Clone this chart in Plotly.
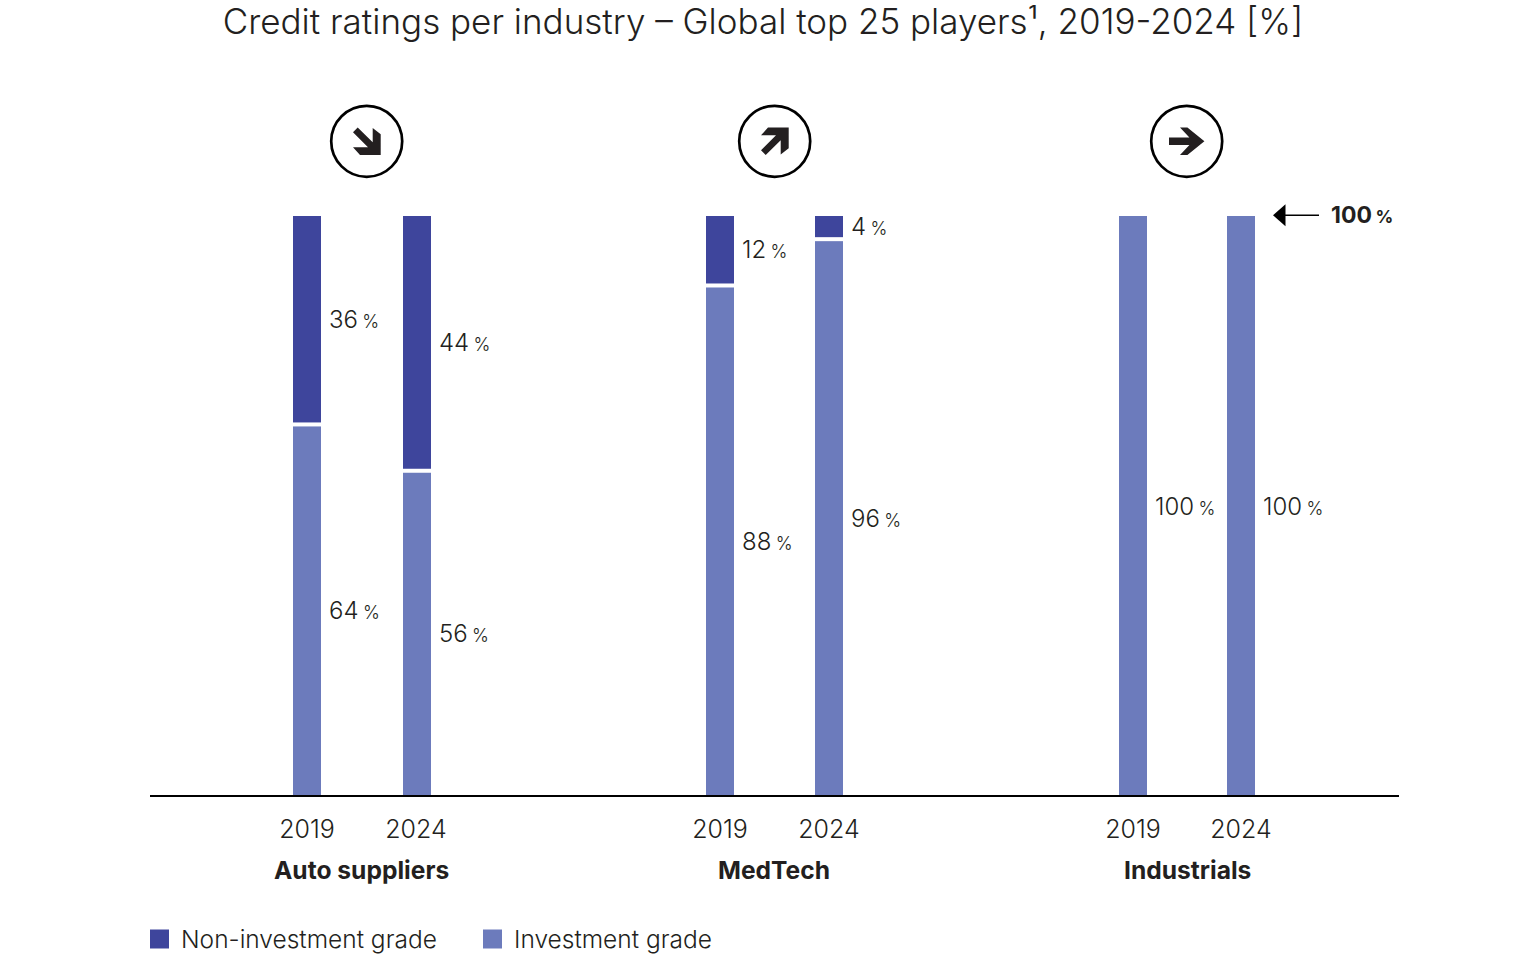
import plotly.graph_objects as go

# ---- data ----
industries = ["Auto suppliers", "MedTech", "Industrials"]
years = ["2019", "2024"]
non_investment = [36, 44, 12, 4, 0, 0]
investment = [64, 56, 88, 96, 100, 100]
series_names = ["Non-investment grade", "Investment grade"]
title_text = "Credit ratings per industry – Global top 25 players¹, 2019-2024 [%]"

# ---- layout / style ----
W, H = 1530, 974
PLOT_L, PLOT_R, PLOT_T, PLOT_B = 150, 1399, 216, 795
BAR_X = [307, 417, 720, 829, 1133, 1241]
TICK_X = [307, 416, 720, 829, 1133, 1241]
GROUP_X = [361, 774, 1187]
ICON_X = [366.7, 774.7, 1186.7]
BAR_W = 28
DARK, LIGHT, INK = "#3E459C", "#6C7BBC", "#231F20"
FONT = "Inter"
year_labels = [y for _ in industries for y in years]


def xp(px):
    return (px - PLOT_L) / (PLOT_R - PLOT_L)


def yp(py):
    return (PLOT_B - py) / (PLOT_B - PLOT_T)


def poly(cx, cy, pts):
    return "M" + " L".join(f"{xp(cx + a)},{yp(cy + b)}" for a, b in pts) + " Z"


def pct(v, size, bold=False):
    s = f'{v}\u2009<span style="font-size:{size}px">%</span>'
    return f"<b>{s}</b>" if bold else s


PAPER = dict(xref="paper", yref="paper")

fig = go.Figure()
fig.add_bar(x=BAR_X, y=investment, width=BAR_W, name=series_names[1],
            marker=dict(color=LIGHT, line=dict(width=0)), showlegend=False)
fig.add_bar(x=BAR_X, y=non_investment, width=BAR_W, name=series_names[0],
            marker=dict(color=DARK, line=dict(width=0)), showlegend=False)

annotations = []
LABEL_FONT = dict(family=FONT, size=24, color=INK, weight=300)
for x, a, b in zip(BAR_X, non_investment, investment):
    annotations.append(dict(x=x + BAR_W / 2, y=b / 2, text=pct(b, 18), showarrow=False, xanchor="left",
                            yanchor="middle", xshift=6, yshift=-1, font=LABEL_FONT))
    if a:
        annotations.append(dict(x=x + BAR_W / 2, y=b + a / 2, text=pct(a, 18), showarrow=False, xanchor="left",
                                yanchor="middle", xshift=6, yshift=1, font=LABEL_FONT))

shapes = []
# white separators between stacked segments
for x, a, b in zip(BAR_X, non_investment, investment):
    if a:
        shapes.append(dict(type="line", x0=x - BAR_W / 2, x1=x + BAR_W / 2, y0=b, y1=b,
                           line=dict(color="white", width=4), layer="above"))

# trend icons
SE = [(-9, -13.7), (6, 1), (6, -13.3), (14, -7), (14, 13.7), (-6.7, 13.7), (-13.7, 6), (1.3, 6), (-13.7, -9)]
NE = [(a, -b) for a, b in SE]
EA = [(17.7, 0), (0.7, -13.7), (-6.7, -13.7), (2.7, -3.7), (-17.7, -3.7),
      (-17.7, 3.7), (2.7, 3.7), (-6.7, 13.7), (0.7, 13.7)]
CY, R = 141.3, 35.5
for cx, pts in zip(ICON_X, [SE, NE, EA]):
    shapes.append(dict(type="circle", x0=xp(cx - R), x1=xp(cx + R), y0=yp(CY - R), y1=yp(CY + R),
                       line=dict(color="black", width=2.7), fillcolor="white", **PAPER))
    shapes.append(dict(type="path", path=poly(cx, CY, pts), fillcolor=INK, line=dict(width=0), **PAPER))

# 100% pointer
shapes.append(dict(type="line", x0=xp(1285), x1=xp(1319), y0=yp(215.3), y1=yp(215.3),
                   line=dict(color="black", width=1.5), **PAPER))
shapes.append(dict(type="path", path=poly(1273, 215.3, [(0, 0), (12.5, -11), (12.5, 11)]),
                   fillcolor="black", line=dict(width=0), **PAPER))

# legend swatches
LEG_Y = 939
for x0, c in zip([150, 483], [DARK, LIGHT]):
    shapes.append(dict(type="rect", x0=xp(x0), x1=xp(x0 + 19), y0=yp(LEG_Y - 9.5), y1=yp(LEG_Y + 9.5),
                       fillcolor=c, line=dict(width=0), **PAPER))

for x, name in zip(GROUP_X, industries):
    annotations.append(dict(x=xp(x), y=yp(869.5), text=f"<b>{name}</b>", showarrow=False, xanchor="center",
                            yanchor="middle", font=dict(family=FONT, size=24.6, color=INK), **PAPER))
for x, name in zip([179, 512], series_names):
    annotations.append(dict(x=xp(x), y=yp(LEG_Y), text=name, showarrow=False, xanchor="left", yanchor="middle",
                            font=dict(family=FONT, size=24.5, color=INK, weight=300), **PAPER))
annotations.append(dict(x=xp(1329), y=yp(215), text=pct(100, 17.5, True), showarrow=False, xanchor="left",
                        yanchor="middle", font=dict(family=FONT, size=23, color=INK), **PAPER))

fig.update_layout(
    width=W, height=H, barmode="stack", bargap=0,
    paper_bgcolor="white", plot_bgcolor="white", showlegend=False,
    margin=dict(l=PLOT_L, r=W - PLOT_R, t=PLOT_T, b=H - PLOT_B),
    title=dict(text=title_text, x=763 / W, xanchor="center", y=1 - 22 / H, yanchor="middle",
               font=dict(family=FONT, size=35, color=INK, weight=300)),
    xaxis=dict(range=[PLOT_L, PLOT_R], tickvals=TICK_X, ticktext=year_labels, ticks="", showgrid=False,
               zeroline=False, showline=True, linecolor="black", linewidth=1.5,
               ticklabelstandoff=11, tickfont=dict(family=FONT, size=25, color=INK, weight=300), tickangle=0),
    yaxis=dict(range=[0, 100], visible=False, showgrid=False, zeroline=False),
    shapes=shapes, annotations=annotations,
)
fig.write_html("out.html", config=dict(displayModeBar=False), post_script="document.body.style.margin='0';")
